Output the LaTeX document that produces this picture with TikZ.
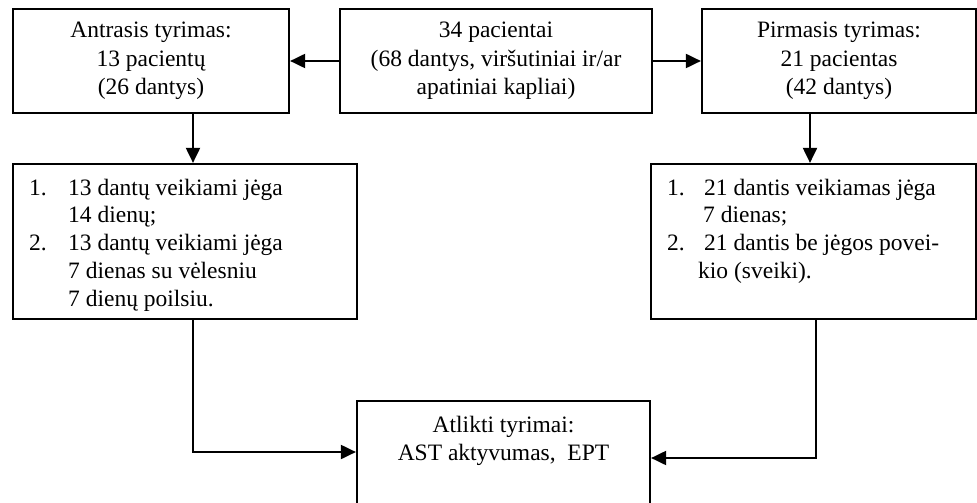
\documentclass[tikz,border=0pt]{standalone}
\usepackage{fontspec}
\setmainfont{Liberation Serif}
\usetikzlibrary{arrows.meta}
\begin{document}
\begin{tikzpicture}[x=1pt,y=-1pt,
  box/.style={draw, line width=2.2pt, rectangle, inner sep=0pt},
  txt/.style={inner sep=0pt, align=center, font=\fontsize{23.5}{28.5}\selectfont},
  lst/.style={inner sep=0pt, font=\fontsize{23.5}{27.75}\selectfont},
  arr/.style={line width=2pt, -{Triangle[length=15pt,width=14pt]}}]
\useasboundingbox (0,0) rectangle (977,503);
% top row
\node[box, minimum width=276pt, minimum height=104pt] (A) at (151,61) {};
\node[box, minimum width=312pt, minimum height=104pt] (C) at (496,61) {};
\node[box, minimum width=274pt, minimum height=104pt] (P) at (839,61) {};
\node[txt] (At) at (A.center) {Antrasis tyrimas:\\13 pacientų\\(26 dantys)};
\node[txt] (Ct) at (C.center) {34 pacientai\\(68 dantys, viršutiniai ir/ar\\apatiniai kapliai)};
\node[txt] (Pt) at (P.center) {Pirmasis tyrimas:\\21 pacientas\\(42 dantys)};
% middle row
\node[box, minimum width=344pt, minimum height=155pt] (L) at (185,241.5) {};
\node[box, minimum width=325pt, minimum height=155pt] (R) at (813.5,241.5) {};
\node[lst, anchor=base west] (Lt) at (29,195) {\begin{tabular}[t]{@{}l@{}}
\makebox[39pt][l]{1.}13 dantų veikiami jėga\\
\hspace*{39pt}14 dienų;\\
\makebox[39pt][l]{2.}13 dantų veikiami jėga\\
\hspace*{39pt}7 dienas su vėlesniu\\
\hspace*{39pt}7 dienų poilsiu.
\end{tabular}};
\node[lst, anchor=base west] (Rt) at (667,195) {\begin{tabular}[t]{@{}l@{}}
\makebox[37pt][l]{1.}21 dantis veikiamas jėga\\
\hspace*{36pt}7 dienas;\\
\makebox[37pt][l]{2.}21 dantis be jėgos povei-\\
\hspace*{31pt}kio (sveiki).
\end{tabular}};
% bottom
\node[box, minimum width=293pt, minimum height=130pt] (B) at (503.5,466) {};
\node[txt, anchor=base] (Bt) at (503.5,432) {Atlikti tyrimai:};
\node[txt, anchor=base] (Bt2) at (503.5,460) {AST aktyvumas,\ \ EPT};
% helper coordinates
\coordinate (ax) at (193,0);
\coordinate (px) at (810,0);
\coordinate (lx) at (193,0);
\coordinate (rx) at (816,0);
\coordinate (ly) at (0,452);
\coordinate (ry) at (0,458);
% connectors
\draw[arr] (C.west) -- (A.east);
\draw[arr] (C.east) -- (P.west);
\draw[arr] (A.south -| ax) -- (L.north -| ax);
\draw[arr] (P.south -| px) -- (R.north -| px);
\draw[arr] (L.south -| lx) |- (B.west |- ly);
\draw[arr] (R.south -| rx) |- (B.east |- ry);
\end{tikzpicture}
\end{document}
